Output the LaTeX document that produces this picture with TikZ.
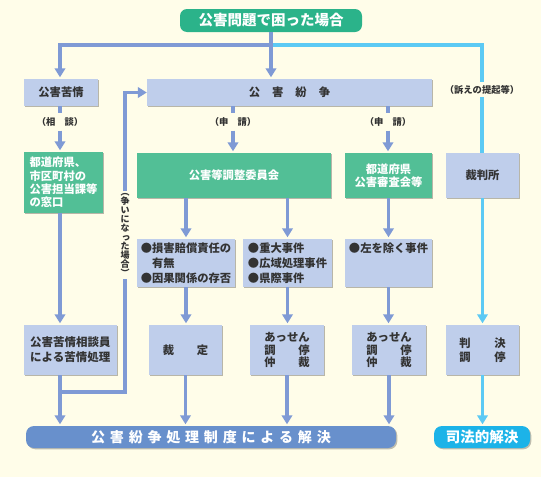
\documentclass[tikz,border=0pt]{standalone}
\usepackage{fontspec}
\setmainfont{Noto Sans CJK JP}
\usetikzlibrary{arrows.meta,shadows}
\definecolor{bg}{HTML}{FFFDE9}
\definecolor{lb}{HTML}{BFCEEB}
\definecolor{gr}{HTML}{52BF96}
\definecolor{tg}{HTML}{2BB38A}
\definecolor{ar}{HTML}{7F9AD5}
\definecolor{cy}{HTML}{5CCAF4}
\definecolor{bb}{HTML}{6890CC}
\definecolor{sb}{HTML}{1CB3E8}
\definecolor{tx}{HTML}{333333}
\newcommand\lsp{\hspace{4.8pt}}
\tikzset{
  box/.style={fill=lb, text=tx, inner sep=0pt,
    font=\fontsize{11.3}{13}\selectfont\bfseries,
    drop shadow={shadow xshift=1.3pt, shadow yshift=-1.3pt, fill=black, opacity=0.28}},
  gbox/.style={box, fill=gr, text=white},
  lbl/.style={text=tx, inner sep=0pt, font=\fontsize{9.3}{10}\selectfont\bfseries},
  line/.style={draw=ar, line width=3.5pt},
  arr/.style={line, -{Triangle[width=10.5pt,length=9pt]}, shorten >=1.5pt},
  cline/.style={draw=cy, line width=3.5pt},
  carr/.style={cline, -{Triangle[width=10.5pt,length=9pt]}, shorten >=1.5pt},
  bar/.style={inner sep=0pt, rounded corners=8pt, text=white,
    font=\fontsize{14}{16}\selectfont\bfseries, minimum height=22pt,
    drop shadow={shadow xshift=1.3pt, shadow yshift=-1.3pt, fill=black, opacity=0.25}}
}
\begin{document}
\begin{tikzpicture}[x=1pt,y=-1pt]
\fill[bg] (0,0) rectangle (541,477);
\useasboundingbox (0,0) rectangle (541,477);

% top
\node[fill=tg, text=white, rounded corners=7pt, inner sep=0pt,
  minimum width=182pt, minimum height=23pt,
  font=\fontsize{14.5}{16}\selectfont\bfseries] (top) at (271,20.5) {公害問題で困った場合};

% row 1
\node[box, minimum width=74pt, minimum height=27pt] (kujo) at (61,92.5) {公害苦情};
\node[box, minimum width=285pt, minimum height=27pt] (funso) at (289.5,92.5)
  {公\hspace{12pt}害\hspace{12pt}紛\hspace{12pt}争};

% labels
\node[lbl, minimum height=17pt] (soudan) at (60,122) {（相　談）};
\node[lbl, minimum height=17pt] (shinsei1) at (233,122) {（申　請）};
\node[lbl, minimum height=17pt] (shinsei2) at (388,122) {（申　請）};
\node[lbl, minimum height=15pt] (sosho) at (482,89.5) {（訴えの提起等）};

% row green
\node[gbox, minimum width=79pt, minimum height=61pt, align=left,
  font=\fontsize{11.3}{13.4}\selectfont\bfseries] (mado) at (63.5,182.5)
  {都道府県、\\市区町村の\\公害担当課等\\の窓口};
\node[gbox, minimum width=194pt, minimum height=45pt] (iin) at (234,175.5) {公害等調整委員会};
\node[gbox, minimum width=87pt, minimum height=45pt, align=center,
  font=\fontsize{11.3}{13}\selectfont\bfseries] (shinsa) at (388.5,175.5) {都道府県\\公害審査会等};
\node[box, minimum width=73pt, minimum height=45pt] (saiban) at (482.5,175.5) {裁判所};

% row 2
\node[box, minimum width=98pt, minimum height=48pt, align=left,
  font=\fontsize{11.3}{15}\selectfont\bfseries] (r2a) at (186,263)
  {●損害賠償責任の\\\hspace{1em}有無\\●因果関係の存否};
\node[box, minimum width=89pt, minimum height=48pt, align=left,
  font=\fontsize{11.3}{15}\selectfont\bfseries] (r2b) at (287.5,263)
  {●重大事件\\●広域処理事件\\●県際事件};
\node[box, minimum width=87pt, minimum height=48pt, align=left,
  font=\fontsize{11.3}{15}\selectfont\bfseries] (r2c) at (388.5,263)
  {●左を除く事件\\\phantom{あ}\\\phantom{あ}};

% vertical label
\node[lbl, align=center, font=\fontsize{9}{9}\selectfont\bfseries, inner sep=2pt] (tate) at (125,235)
  {︵\\争\\い\\に\\な\\\hspace{2pt}っ\\た\\場\\合\\︶};

% row 3
\node[box, minimum width=93pt, minimum height=50pt, align=left,
  font=\fontsize{11.5}{15}\selectfont\bfseries] (kujosho) at (70.5,350)
  {公害苦情相談員\\による苦情処理};
\node[box, minimum width=73pt, minimum height=50pt] (r3a) at (185.5,350)
  {\makebox[4em]{裁\hfill 定}};
\node[box, minimum width=74pt, minimum height=50pt, align=center,
  font=\fontsize{11.3}{12.8}\selectfont\bfseries] (r3b) at (287,350)
  {あっせん\\\makebox[4em]{調\hfill 停}\\\makebox[4em]{仲\hfill 裁}};
\node[box, minimum width=74pt, minimum height=50pt, align=center,
  font=\fontsize{11.3}{12.8}\selectfont\bfseries] (r3c) at (389,350)
  {あっせん\\\makebox[4em]{調\hfill 停}\\\makebox[4em]{仲\hfill 裁}};
\node[box, minimum width=73pt, minimum height=50pt, align=center,
  font=\fontsize{11.3}{13.5}\selectfont\bfseries] (r3d) at (482.5,350)
  {\makebox[4.1em]{判\hfill 決}\\\makebox[4.1em]{調\hfill 停}};

% bottom bars
\node[bar, fill=bb, minimum width=370pt] (res) at (211,437)
  {公\lsp 害\lsp 紛\lsp 争\lsp 処\lsp 理\lsp 制\lsp 度\lsp に\lsp よ\lsp る\lsp 解\lsp 決};
\node[bar, fill=sb, minimum width=96pt, font=\fontsize{14.5}{16}\selectfont\bfseries] (shiho) at (482,437) {司法的解決};

\coordinate (br) at (60,392);

% cyan connectors
\draw[cline] (top.south) ++(0,13) -| (sosho.north);
\draw[cline] (sosho.south) -- (sosho.south |- saiban.north);
\draw[carr] (saiban.south) -- (saiban.south |- r3d.north);
\draw[carr] (r3d.south) -- (r3d.south |- shiho.north);

% periwinkle connectors
\draw[arr] (top.south) -- ++(0,13) -| (soudan.north |- kujo.north);
\draw[arr] (top.south) -- (top.south |- funso.north);
\draw[line] (soudan.north |- kujo.south) -- (soudan.north);
\draw[arr] (soudan.south) -- (soudan.south |- mado.north);
\draw[arr] (soudan.south |- mado.south) -- (soudan.south |- kujosho.north);
\draw[arr] (soudan.south |- kujosho.south) -- (soudan.south |- res.north);
\draw[line] (br) -| (tate.south);
\draw[arr, shorten >=0pt] (tate.north) |- (funso.west);

\draw[line] (shinsei1.north |- funso.south) -- (shinsei1.north);
\draw[arr] (shinsei1.south) -- (shinsei1.south |- iin.north);
\draw[line] (shinsei2.north |- funso.south) -- (shinsei2.north);
\draw[arr] (shinsei2.south) -- (shinsei2.south |- shinsa.north);

\draw[arr] (r2a.north |- iin.south) -- (r2a.north);
\draw[arr] (r2b.north |- iin.south) -- (r2b.north);
\draw[arr] (r2c.north |- shinsa.south) -- (r2c.north);

\draw[arr] (r2a.south) -- (r2a.south |- r3a.north);
\draw[arr] (r2b.south) -- (r2b.south |- r3b.north);
\draw[arr] (r2c.south) -- (r2c.south |- r3c.north);

\draw[arr] (r3a.south) -- (r3a.south |- res.north);
\draw[arr] (r3b.south) -- (r3b.south |- res.north);
\draw[arr] (r3c.south) -- (r3c.south |- res.north);
\end{tikzpicture}
\end{document}
